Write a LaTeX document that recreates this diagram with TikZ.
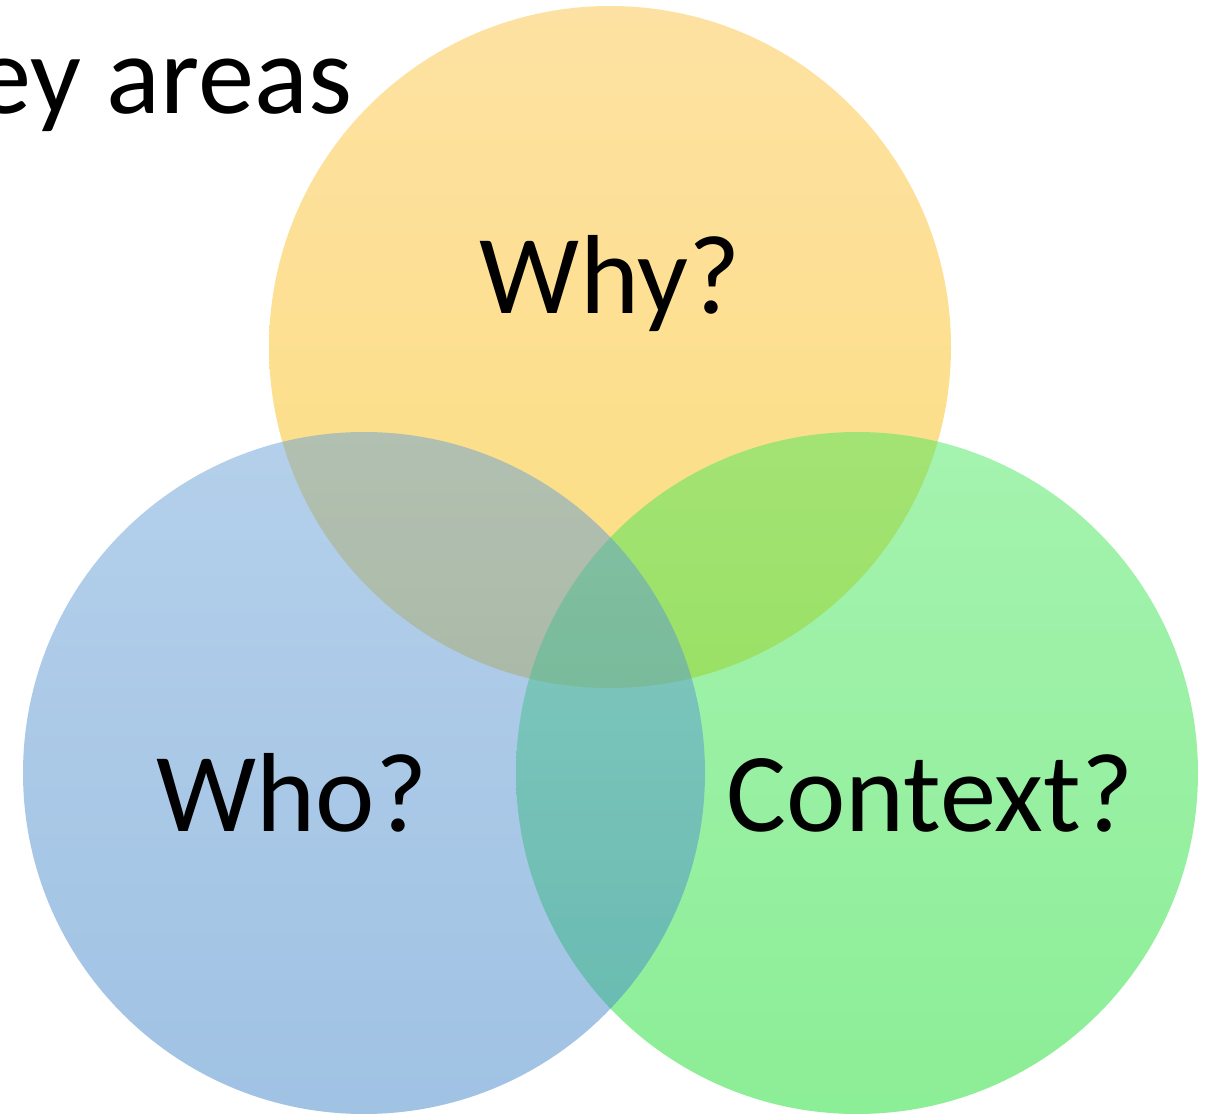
\documentclass[tikz,border=0pt]{standalone}
\usepackage{fontspec}
\setmainfont{Carlito}

% colori dei cerchi (alto / basso del gradiente)
\definecolor{whytop}{RGB}{251,196,70}
\definecolor{whybot}{RGB}{250,190,0}
\definecolor{whotop}{RGB}{105,161,215}
\definecolor{whobot}{RGB}{65,133,200}
\definecolor{ctxtop}{RGB}{75,231,95}
\definecolor{ctxbot}{RGB}{25,221,45}

\begin{document}
\begin{tikzpicture}[
    venn/.style={fill opacity=0.5},
    etichetta/.style={font=\fontsize{32}{38}\selectfont, anchor=base, inner sep=0pt}
  ]
        % Area della pagina
        \useasboundingbox (0,0) rectangle (12.09,11.13);
        \clip (0,0) rectangle (12.09,11.13);

        % Titolo (tagliato dal bordo)
        \node[etichetta, anchor=base east] (titolo) at (3.53,10.0) {Key areas};

        % Cerchi: prima giallo, poi verde, poi blu sopra
        \shade[venn, top color=whytop, bottom color=whybot] (6.10,7.66) circle (3.41); % Why
        \shade[venn, top color=ctxtop, bottom color=ctxbot] (8.57,3.40) circle (3.41); % Context
        \shade[venn, top color=whotop, bottom color=whobot] (3.64,3.40) circle (3.41); % Who

        % Etichette
        \node[etichetta] (why) at (6.10,8.00) {Why?};
        \node[etichetta] (who) at (2.92,2.82) {Who?};
        \node[etichetta] (context) at (9.30,2.82) {Context?};

    \end{tikzpicture}
\end{document}
